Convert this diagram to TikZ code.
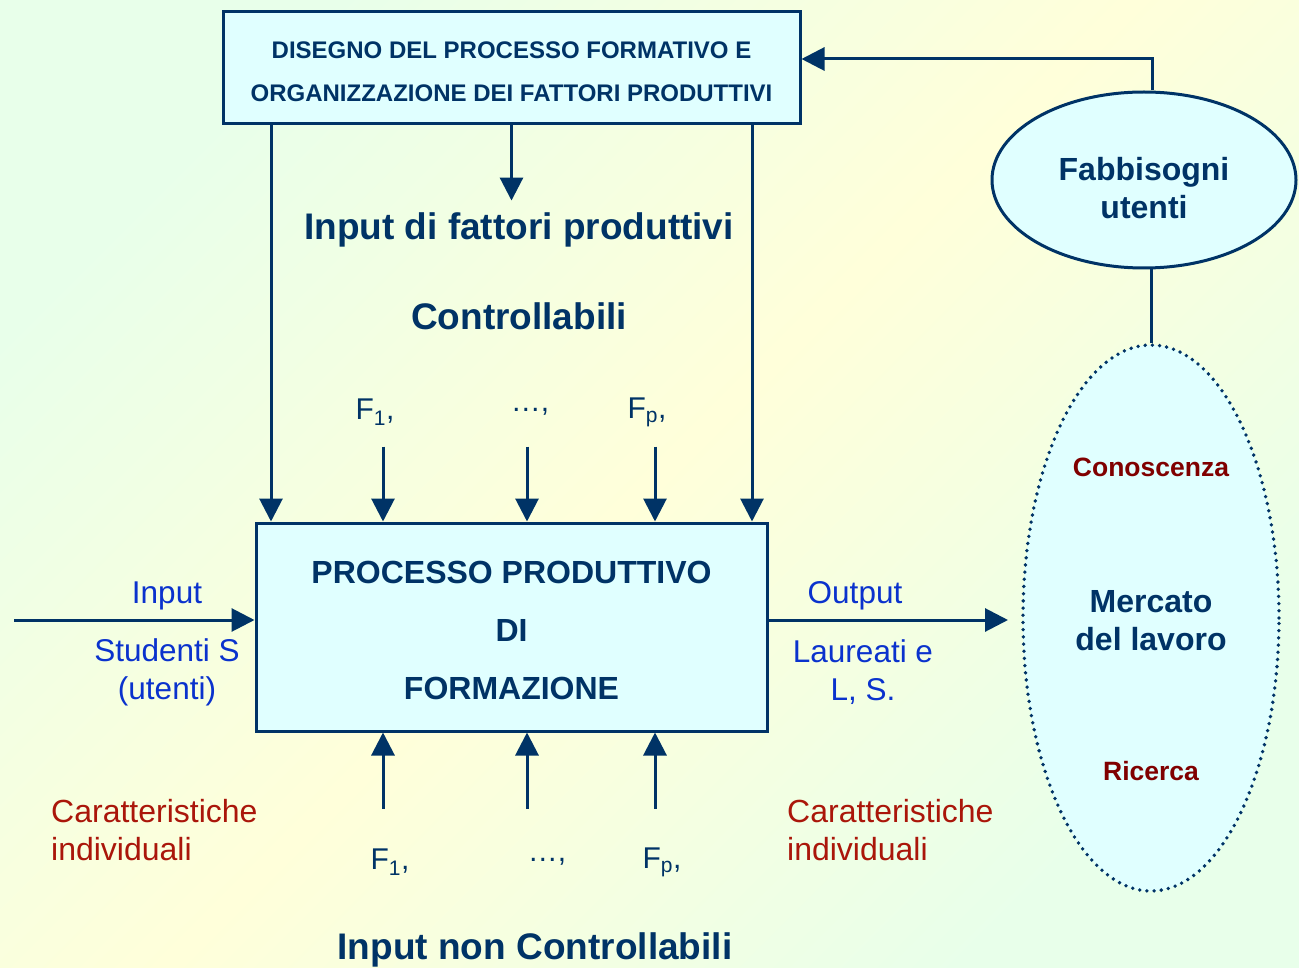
\documentclass[tikz,border=0pt]{standalone}
\usepackage{fontspec}
\setmainfont{Liberation Sans}
\usetikzlibrary{arrows.meta,shapes.geometric}
\definecolor{navy}{RGB}{0,51,102}
\definecolor{boxfill}{RGB}{224,255,255}
\definecolor{textblue}{RGB}{10,50,205}
\definecolor{carred}{RGB}{170,22,10}
\definecolor{darkred}{RGB}{128,0,0}
\definecolor{bggreen}{RGB}{232,255,234}
\definecolor{bgyellow}{RGB}{255,255,218}
\begin{document}
\begin{tikzpicture}[x=1pt,y=1pt]
\tikzstyle{every node}+=[inner sep=0pt]
\tikzstyle{line}=[draw=navy,line width=3pt]
\tikzstyle{arr}=[line,-{Triangle[length=23pt,width=23pt]}]
\tikzstyle{box}=[draw=navy,line width=3pt,fill=boxfill]
\tikzstyle{bold}=[text=navy,font=\bfseries]
\tikzstyle{flabel}=[text=navy,font=\fontsize{30}{36}\selectfont]
\tikzstyle{bluetext}=[text=textblue,align=center,font=\fontsize{31.5}{38}\selectfont]
\tikzstyle{redtext}=[text=carred,align=left,anchor=west,font=\fontsize{32}{38}\selectfont]
\useasboundingbox (0,0) rectangle (1299,-968);
\shade [top color=bggreen,bottom color=bggreen,middle color=bgyellow,shading angle=45] (0,0) rectangle (1299,-968);
% boxes
\node [box,minimum width=577,minimum height=112] (design) at (511.5,-68) {};
\node [bold,align=center,font=\fontsize{24}{43}\bfseries\selectfont] (designtext) at (511.5,-72) {DISEGNO DEL PROCESSO FORMATIVO E\\ORGANIZZAZIONE DEI FATTORI PRODUTTIVI};
\node [box,minimum width=511,minimum height=208] (process) at (511.5,-627) {};
\node [bold,align=center,font=\fontsize{32}{58}\bfseries\selectfont] (processtext) at (511.5,-630) {PROCESSO PRODUTTIVO\\DI\\FORMAZIONE};
\node [box,ellipse,minimum width=304,minimum height=176] (needs) at (1144,-180) {};
\node [bold,align=center,font=\fontsize{32}{38}\bfseries\selectfont] (needstext) at (1144,-188) {Fabbisogni\\utenti};
\node [ellipse,draw=navy,fill=boxfill,line width=3.8pt,line cap=round,dash pattern=on 0pt off 7.2pt,minimum width=256,minimum height=546] (market) at (1151,-618) {};
\node [bold,align=center,font=\fontsize{32}{38}\bfseries\selectfont] (markettext) at (1151,-621) {Mercato\\del lavoro};
\node [text=darkred,font=\fontsize{26.5}{30}\bfseries\selectfont] (knowledge) at (1151,-467) {Conoscenza};
\node [text=darkred,font=\fontsize{26.5}{30}\bfseries\selectfont] (research) at (1151,-771) {Ricerca};
% titles
\node [bold,font=\fontsize{37}{42}\bfseries\selectfont] (inctrl) at (519,-230) {Input di fattori produttivi};
\node [bold,font=\fontsize{37}{42}\bfseries\selectfont] (ctrl) at (519,-316) {Controllabili};
\node [bold,font=\fontsize{37}{42}\bfseries\selectfont] (noctrl) at (535,-950) {Input non Controllabili};
% factor labels
\node [flabel] (f1top) at (375,-412) {F\textsubscript{1},};
\node [flabel] (fdtop) at (530,-412) {…,};
\node [flabel] (fptop) at (647,-412) {F\textsubscript{p},};
\node [flabel] (f1bot) at (390,-862) {F\textsubscript{1},};
\node [flabel] (fdbot) at (547,-862) {…,};
\node [flabel] (fpbot) at (662,-862) {F\textsubscript{p},};
% input / output labels
\node [bluetext] (inlab) at (167,-596) {Input};
\node [bluetext] (students) at (167,-672) {Studenti S\\(utenti)};
\node [bluetext] (outlab) at (855,-596) {Output};
\node [bluetext] (graduates) at (863,-672) {Laureati e\\L, S.};
\node [redtext] (charleft) at (51,-830) {Caratteristiche\\individuali};
\node [redtext] (charright) at (787,-830) {Caratteristiche\\individuali};
% connectors
\coordinate (instart) at (14,-620);
\coordinate (outend) at (1008,-620);
\draw [arr] ([xshift=-240.5]design.south) -- ([xshift=-240.5]process.north);
\draw [arr] ([xshift=240.5]design.south) -- ([xshift=240.5]process.north);
\draw [arr] (design.south) -- ([yshift=12]design.south |- inctrl.north);
\foreach \dx in {-128.5,15.5,143.5}
  \draw [arr] ([xshift=\dx,yshift=75]process.north) -- ([xshift=\dx]process.north);
\foreach \dx in {-128.5,15.5,143.5}
  \draw [arr] ([xshift=\dx,yshift=-76]process.south) -- ([xshift=\dx]process.south);
\draw [arr] (instart) -- ([yshift=7]process.west);
\draw [arr] ([yshift=7]process.east) -- (outend);
\draw [arr] ([xshift=8]needs.north) |- ([yshift=9]design.east);
\draw [line] (market.north |- needs.south) -- (market.north);
\end{tikzpicture}
\end{document}
